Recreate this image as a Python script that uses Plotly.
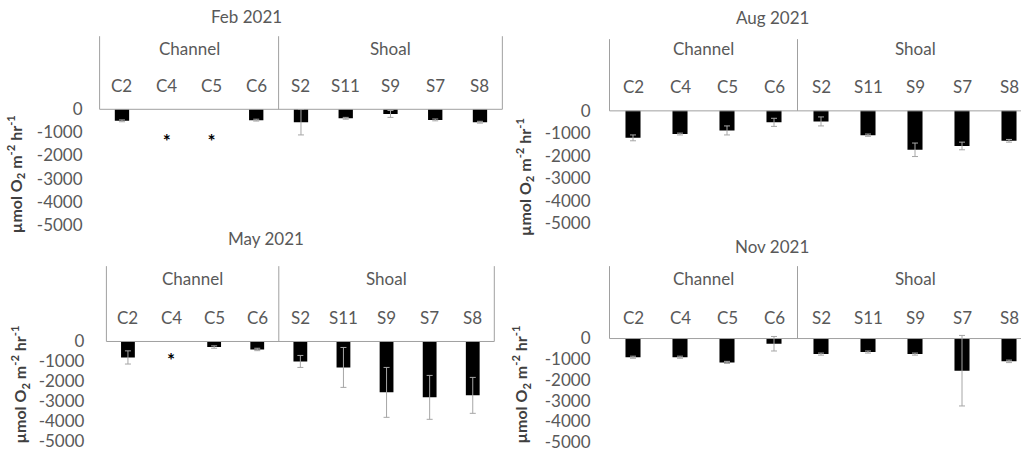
import plotly.graph_objects as go

# ---------------- data ----------------
sites = ["C2", "C4", "C5", "C6", "S2", "S11", "S9", "S7", "S8"]
groups = ["Channel", "Shoal"]
group_sizes = [4, 5]
y_ticks = [0, -1000, -2000, -3000, -4000, -5000]
y_tick_text = ["0", "-1000", "-2000", "-3000", "-4000", "-5000"]
y_title = "µmol O<sub>2</sub> m<sup>-2</sup> hr<sup>-1</sup>"

feb_mean = [-500, None, None, -470, -560, -390, -200, -460, -560]
feb_err = [40, 0, 0, 40, 550, 40, 150, 40, 40]
feb_missing = ["C4", "C5"]

aug_mean = [-1200, -1030, -870, -510, -470, -1080, -1730, -1560, -1330]
aug_err = [130, 40, 200, 180, 200, 50, 300, 170, 60]
aug_missing = []

may_mean = [-800, None, -280, -400, -1000, -1300, -2550, -2800, -2700]
may_err = [330, 0, 60, 60, 300, 1000, 1250, 1100, 900]
may_missing = ["C4"]

nov_mean = [-900, -900, -1150, -250, -750, -650, -750, -1550, -1100]
nov_err = [50, 50, 50, 350, 50, 50, 50, 1700, 60]
nov_missing = []

# ---------------- layout (pixel geometry) ----------------
W, H = 1021, 464
FONT = "Lato, 'Liberation Sans', sans-serif"
TXT = "#595959"
LINE = "#a0a0a0"

panels = [
    dict(title="Feb 2021", mean=feb_mean, err=feb_err, missing=feb_missing,
         x0=99.6, cw=44.75, zero=111.7, k=23.6, top=37, cat_y=87, grp_y=50,
         tx=246, ty=17, ytx=15, yty=178, star_y=146, lab_r=82),
    dict(title="Aug 2021", mean=aug_mean, err=aug_err, missing=aug_missing,
         x0=609.5, cw=47.0, zero=113.3, k=23.0, top=40, cat_y=88, grp_y=50,
         tx=772, ty=18, ytx=524, yty=181, star_y=146, lab_r=590),
    dict(title="May 2021", mean=may_mean, err=may_err, missing=may_missing,
         x0=106.4, cw=43.1, zero=349, k=20.4, top=272, cat_y=324, grp_y=285,
         tx=266, ty=244, ytx=20, yty=393, star_y=370, lab_r=83),
    dict(title="Nov 2021", mean=nov_mean, err=nov_err, missing=nov_missing,
         x0=609.5, cw=47.0, zero=346, k=21.2, top=272, cat_y=324, grp_y=285,
         tx=772, ty=252, ytx=521, yty=393, star_y=370, lab_r=590),
]

fig = go.Figure()
shapes = []
annotations = []
layout_axes = {}

for i, p in enumerate(panels):
    n = i + 1
    xa = "x" if n == 1 else f"x{n}"
    ya = "y" if n == 1 else f"y{n}"
    xkey = "xaxis" if n == 1 else f"xaxis{n}"
    ykey = "yaxis" if n == 1 else f"yaxis{n}"

    def val(py, p=p):
        return (p["zero"] - py) / p["k"] * 1000.0

    pad = 4
    L = p["x0"] - pad
    R = min(W, p["x0"] + len(sites) * p["cw"] + pad)
    xr = [-0.5 - pad / p["cw"], -0.5 + (R - p["x0"]) / p["cw"]]
    T = p["top"] - 3
    B = p["zero"] + 5 * p["k"]
    ytop = val(T)
    box_top = val(p["top"])

    layout_axes[xkey] = dict(domain=[L / W, R / W], range=xr, type="category",
                             categoryorder="array", categoryarray=sites,
                             showticklabels=False, showgrid=False, zeroline=False,
                             showline=False, ticks="", anchor=ya, fixedrange=True)
    layout_axes[ykey] = dict(domain=[1 - B / H, 1 - T / H], range=[-5000, ytop],
                             tickvals=y_ticks, ticktext=y_tick_text,
                             showgrid=False, zeroline=False, showline=False, ticks="",
                             tickfont=dict(family=FONT, size=17, color=TXT),
                             ticklabelstandoff=int(round(max(0, L - p["lab_r"] - 2))),
                             anchor=xa, fixedrange=True)

    fig.add_trace(go.Bar(
        x=sites, y=p["mean"], width=0.32,
        marker=dict(color="black", line=dict(width=0)),
        error_y=dict(type="data", array=p["err"], symmetric=True,
                     color="#a6a6a6", thickness=1, width=3),
        xaxis=xa, yaxis=ya, hoverinfo="skip"))

    if p["missing"]:
        fig.add_trace(go.Scatter(
            x=p["missing"], y=[val(p["star_y"])] * len(p["missing"]),
            mode="text", text=["<b>*</b>"] * len(p["missing"]),
            textposition="middle center",
            textfont=dict(family=FONT, size=19, color="#000000"),
            xaxis=xa, yaxis=ya, hoverinfo="skip"))

    # category box (multi-level axis frame)
    shapes.append(dict(type="line", xref=xa, yref=ya, x0=-0.5, x1=len(sites) - 0.5,
                       y0=0, y1=0, line=dict(color=LINE, width=1)))
    edges = [-0.5]
    acc = -0.5
    for s in group_sizes:
        acc += s
        edges.append(acc)
    for e in edges:
        shapes.append(dict(type="line", xref=xa, yref=ya, x0=e, x1=e,
                           y0=0, y1=box_top, line=dict(color=LINE, width=1)))

    for j, s in enumerate(sites):
        annotations.append(dict(x=j, y=val(p["cat_y"]), xref=xa, yref=ya, text=s,
                                showarrow=False, xanchor="center", yanchor="middle",
                                font=dict(family=FONT, size=17, color=TXT)))
    start = 0
    for g, s in zip(groups, group_sizes):
        annotations.append(dict(x=start + (s - 1) / 2, y=val(p["grp_y"]), xref=xa, yref=ya,
                                text=g, showarrow=False, xanchor="center", yanchor="middle",
                                font=dict(family=FONT, size=17, color=TXT)))
        start += s

    annotations.append(dict(x=p["tx"] / W, y=1 - p["ty"] / H, xref="paper", yref="paper",
                            text=p["title"], showarrow=False,
                            xanchor="center", yanchor="middle",
                            font=dict(family=FONT, size=17, color=TXT)))
    annotations.append(dict(x=p["ytx"] / W, y=1 - p["yty"] / H, xref="paper", yref="paper",
                            text=f"<b>{y_title}</b>", textangle=-90, showarrow=False,
                            xanchor="center", yanchor="middle",
                            font=dict(family=FONT, size=16, color="#404040")))

fig.update_layout(
    width=W, height=H, margin=dict(l=0, r=0, t=0, b=0),
    paper_bgcolor="white", plot_bgcolor="white",
    showlegend=False, bargap=0.7,
    shapes=shapes, annotations=annotations,
    **layout_axes)

fig.write_html("out.html")
